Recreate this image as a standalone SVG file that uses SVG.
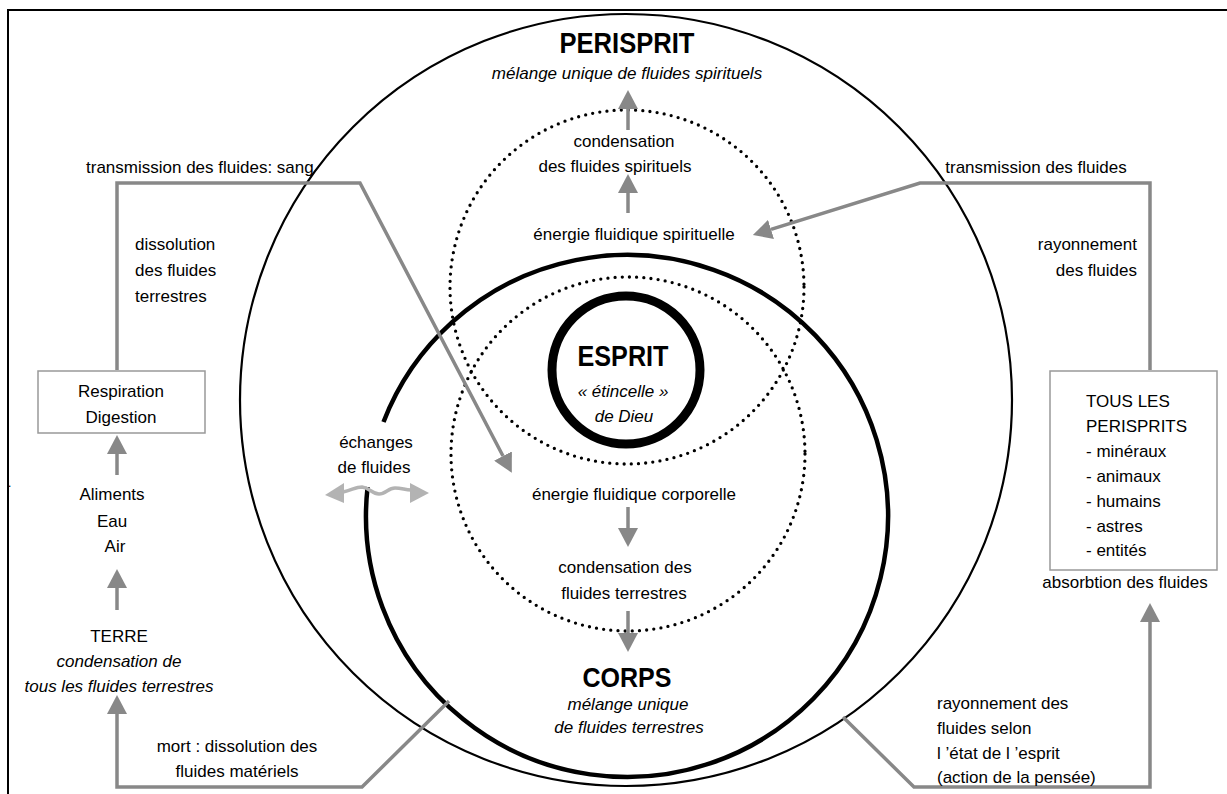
<svg xmlns="http://www.w3.org/2000/svg" width="1227" height="794" viewBox="0 0 1227 794">
<style>
text{font-family:"Liberation Sans",Arial,sans-serif;font-size:17px;fill:#000}
.it{font-style:italic}
.b{font-weight:bold}
.c{text-anchor:middle}
.e{text-anchor:end}
.con{fill:none;stroke:#888;stroke-width:3.5;stroke-linejoin:miter}
.dot{fill:none;stroke:#000;stroke-width:3.3;stroke-linecap:round;stroke-dasharray:0 7.2}
.box{fill:#fff;stroke:#999;stroke-width:1.5}
</style>
<defs>
<marker id="ah" viewBox="0 0 19 20" refX="0" refY="10" markerWidth="19" markerHeight="20" markerUnits="userSpaceOnUse" orient="auto">
<path d="M0,0 L19,10 L0,20 z" fill="#888"/>
</marker>
</defs>
<rect width="1227" height="794" fill="#fff"/>
<path d="M8,794 V10 H1227" fill="none" stroke="#000" stroke-width="2"/>
<text x="8" y="487" style="font-size:12px">.</text>

<g id="perisprit">
<circle cx="626" cy="400" r="386" fill="none" stroke="#000" stroke-width="2.2"/>
<text x="627" y="53" class="b c" style="font-size:29px" textLength="135" lengthAdjust="spacingAndGlyphs">PERISPRIT</text>
<text x="627" y="79" class="it c">mélange unique de fluides spirituels</text>
</g>

<g id="zone-spirituelle">
<circle cx="627" cy="287" r="177" class="dot"/>
<text x="624" y="147" class="c">condensation</text>
<text x="615" y="172" class="c">des fluides spirituels</text>
<text x="634" y="240" class="c">énergie fluidique spirituelle</text>
</g>

<g id="zone-corporelle">
<circle cx="628" cy="454" r="177" class="dot"/>
<text x="634" y="500" class="c">énergie fluidique corporelle</text>
<text x="625" y="573" class="c">condensation des</text>
<text x="624" y="599" class="c">fluides terrestres</text>
</g>

<g id="corps">
<path d="M367.6,487 A261,261 0 1 0 383.5,422" fill="none" stroke="#000" stroke-width="4.5"/>
<text x="627" y="687" class="b c" style="font-size:28px" textLength="89" lengthAdjust="spacingAndGlyphs">CORPS</text>
<text x="628" y="710" class="it c">mélange unique</text>
<text x="629" y="733" class="it c">de fluides terrestres</text>
</g>

<g id="esprit">
<circle cx="626" cy="370" r="74" fill="none" stroke="#000" stroke-width="9"/>
<text x="623" y="366" class="b c" style="font-size:30px" textLength="91" lengthAdjust="spacingAndGlyphs">ESPRIT</text>
<text x="623" y="397" class="it c">« étincelle »</text>
<text x="624" y="422" class="it c">de Dieu</text>
</g>

<g id="respiration">
<rect x="38" y="371" width="167" height="62" class="box"/>
<text x="121" y="397" class="c">Respiration</text>
<text x="121" y="423" class="c">Digestion</text>
</g>

<g id="aliments">
<text x="112" y="500" class="c">Aliments</text>
<text x="112" y="527" class="c">Eau</text>
<text x="115" y="552" class="c">Air</text>
</g>

<g id="terre">
<text x="119" y="642" class="c">TERRE</text>
<text x="119" y="667" class="it c">condensation de</text>
<text x="119" y="692" class="it c">tous les fluides terrestres</text>
</g>

<g id="tous-perisprits">
<rect x="1050" y="371" width="167" height="199" class="box"/>
<text x="1086" y="407">TOUS LES</text>
<text x="1086" y="432">PERISPRITS</text>
<text x="1086" y="457">- minéraux</text>
<text x="1086" y="482">- animaux</text>
<text x="1086" y="507">- humains</text>
<text x="1086" y="532">- astres</text>
<text x="1086" y="556">- entités</text>
</g>

<g id="connectors">
<path class="con" d="M117,370 V183 H360 L503,456" marker-end="url(#ah)"/>
<path class="con" d="M1150,370 V183 H920 L771,229.4" marker-end="url(#ah)"/>
<path class="con" d="M628,130 V109" marker-end="url(#ah)"/>
<path class="con" d="M628,213 V193" marker-end="url(#ah)"/>
<path class="con" d="M117,475 V454" marker-end="url(#ah)"/>
<path class="con" d="M117,610 V588" marker-end="url(#ah)"/>
<path class="con" d="M449,701 L362,787 H117 V714" marker-end="url(#ah)"/>
<path class="con" d="M843,717 L914,787 H1150 V622" marker-end="url(#ah)"/>
<path class="con" d="M628,507 V528" marker-end="url(#ah)"/>
<path class="con" d="M628,611 V633" marker-end="url(#ah)"/>
<g id="echanges-arrow" fill="#b3b3b3">
<path d="M343,492 C352,490 356,487 362,487 C370,488 372,494 379,494 C386,494 388,488 395,488 C402,488 405,490 411,490" fill="none" stroke="#b3b3b3" stroke-width="3.5"/>
<path d="M325,495 L344,483 L344,503 z"/>
<path d="M429,493 L410,483 L410,503 z"/>
</g>
<text x="86" y="173">transmission des fluides: sang</text>
<text x="135" y="250">dissolution</text>
<text x="135" y="276">des fluides</text>
<text x="135" y="302">terrestres</text>
<text x="1036" y="173" class="c">transmission des fluides</text>
<text x="1137" y="250" class="e">rayonnement</text>
<text x="1137" y="276" class="e">des fluides</text>
<text x="376" y="448" class="c">échanges</text>
<text x="374" y="473" class="c">de fluides</text>
<text x="237" y="752" class="c">mort : dissolution des</text>
<text x="237" y="777" class="c">fluides matériels</text>
<text x="1125" y="588" class="c">absorbtion des fluides</text>
<text x="937" y="709">rayonnement des</text>
<text x="937" y="734">fluides selon</text>
<text x="937" y="759">l ’état de l ’esprit</text>
<text x="937" y="783">(action de la pensée)</text>
</g>
</svg>
